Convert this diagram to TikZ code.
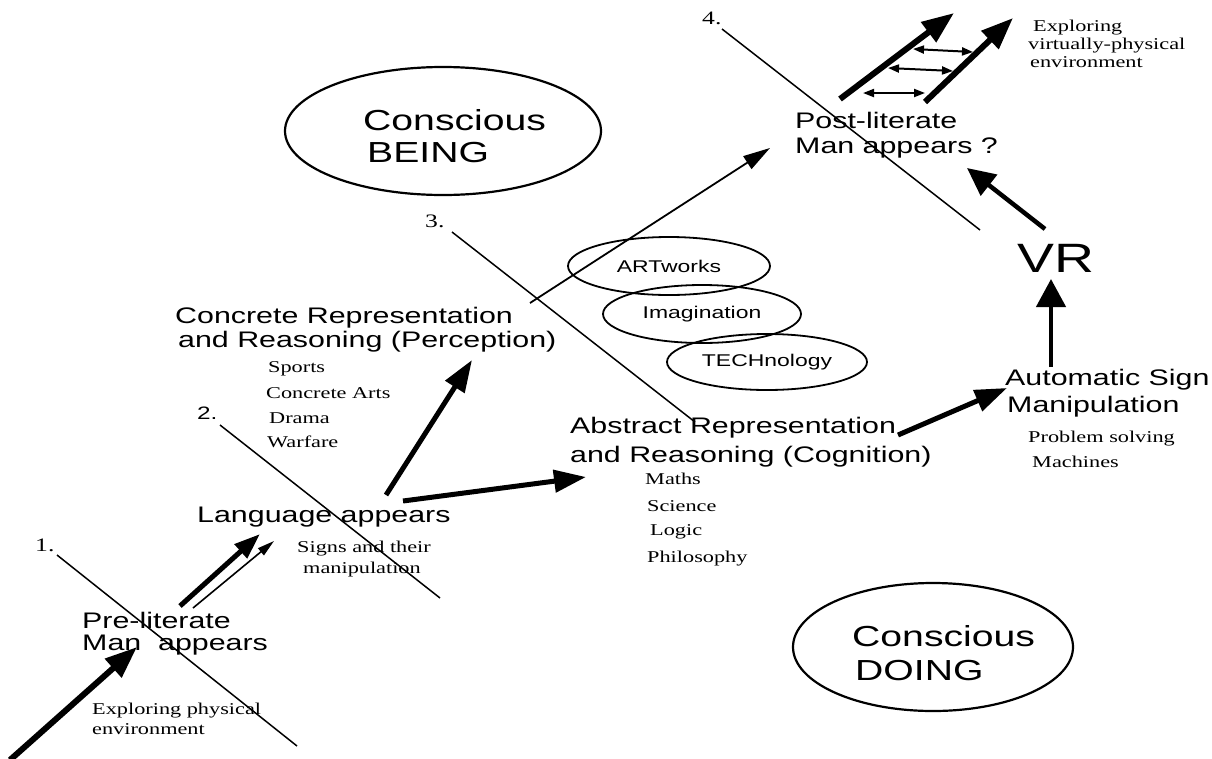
\documentclass[tikz,border=0pt]{standalone}
\usepackage{fontspec}
\setmainfont{Liberation Serif}[FakeStretch=1.35]
\setsansfont{Liberation Sans}[FakeStretch=1.35]
\usetikzlibrary{arrows.meta,shapes.geometric}
\begin{document}
\begin{tikzpicture}[x=1pt,y=-1pt,
  sanslbl/.style={anchor=base west, inner sep=0pt, font=\sffamily\fontsize{22.5}{27}\selectfont},
  biglbl/.style={anchor=base west, inner sep=0pt, font=\sffamily\fontsize{29}{34}\selectfont},
  serlbl/.style={anchor=base west, inner sep=0pt, font=\rmfamily\fontsize{16.5}{20}\selectfont},
  numlbl/.style={anchor=base west, inner sep=0pt, font=\rmfamily\fontsize{19}{22}\selectfont},
  ell/.style={draw, ellipse, line width=1.8pt, inner sep=0pt, font=\sffamily\fontsize{17}{20}\selectfont},
  bigell/.style={draw, ellipse, line width=2.2pt, inner sep=0pt},
  divline/.style={line width=1.5pt},
  fat/.style={line width=5pt, -{Triangle[length=32pt,width=22pt]}},
  fatter/.style={line width=6pt, -{Triangle[length=32pt,width=24pt]}},
  slim/.style={line width=1.6pt, -{Triangle[length=17pt,width=9pt]}},
  slimlong/.style={line width=1.8pt, -{Triangle[length=27pt,width=15pt]}},
  dbl/.style={line width=2pt, {Triangle[length=11pt,width=8pt]}-{Triangle[length=11pt,width=8pt]}}
]
\useasboundingbox[fill=white] (0,0) rectangle (1212,758);

% ---- divider lines and numbers ----
\coordinate (l1a) at (57,555);   \coordinate (l1b) at (297,746);
\coordinate (l2a) at (220,425);  \coordinate (l2b) at (440,598);
\coordinate (l3a) at (452,232);  \coordinate (l3b) at (695,422);
\coordinate (l4a) at (722,29);   \coordinate (l4b) at (980,230);
\draw[divline] (l1a) -- (l1b);
\draw[divline] (l2a) -- (l2b);
\draw[divline] (l3a) -- (l3b);
\draw[divline] (l4a) -- (l4b);
\node[numlbl] (n1) at (35,551) {1.};
\node[anchor=base west, inner sep=0pt, font=\sffamily\fontsize{18}{22}\selectfont] (n2) at (197,419) {2.};
\node[numlbl] (n3) at (425,227) {3.};
\node[numlbl] (n4) at (702,24) {4.};

% ---- big ellipses ----
\node[bigell, minimum width=316pt, minimum height=128pt] (being) at (443,131) {};
\node[biglbl] (being1) at (363,130) {Conscious};
\node[biglbl] (being2) at (367,162) {BEING};
\node[bigell, minimum width=280pt, minimum height=128pt] (doing) at (933,647) {};
\node[biglbl] (doing1) at (852,646) {Conscious};
\node[biglbl] (doing2) at (855,680) {DOING};

% ---- small ellipses ----
\node[ell, minimum width=202pt, minimum height=58pt] (art) at (669,266) {ARTworks};
\node[ell, minimum width=198pt, minimum height=58pt] (imag) at (702,314) {Imagination};
\node[ell, minimum width=200pt, minimum height=56pt] (tech) at (767,362) {TECHnology};

% ---- main labels ----
\node[sanslbl] (pre1) at (82,628) {Pre-literate};
\node[sanslbl] (pre2) at (82,650) {Man\ \ appears};
\node[serlbl] (exp1) at (92,714) {Exploring physical};
\node[serlbl] (exp2) at (92,734) {environment};

\node[sanslbl] (lang) at (197,522) {Language appears};
\node[serlbl] (sig1) at (297,552) {Signs and their};
\node[serlbl] (sig2) at (303,573) {manipulation};

\node[sanslbl] (con1) at (175,323) {Concrete Representation};
\node[sanslbl] (con2) at (178,347) {and Reasoning (Perception)};
\node[serlbl] (sp) at (268,372) {Sports};
\node[serlbl] (ca) at (266,398) {Concrete Arts};
\node[serlbl] (dr) at (269,423) {Drama};
\node[serlbl] (wf) at (267,447) {Warfare};

\node[sanslbl] (abs1) at (570,433) {Abstract Representation};
\node[sanslbl] (abs2) at (570,462) {and Reasoning (Cognition)};
\node[serlbl] (ma) at (645,484) {Maths};
\node[serlbl] (sc) at (647,511) {Science};
\node[serlbl] (lo) at (650,535) {Logic};
\node[serlbl] (ph) at (647,562) {Philosophy};

\node[sanslbl] (aut1) at (1005,385) {Automatic Sign};
\node[sanslbl] (aut2) at (1007,412) {Manipulation};
\node[serlbl] (ps) at (1028,442) {Problem solving};
\node[serlbl] (mc) at (1032,467) {Machines};

\node[anchor=base west, inner sep=0pt, font=\sffamily\fontsize{41}{46}\selectfont] (vr) at (1017,272) {VR};

\node[sanslbl] (post1) at (795,128) {Post-literate};
\node[sanslbl] (post2) at (795,153) {Man appears ?};
\node[serlbl] (ev1) at (1033,31) {Exploring};
\node[serlbl] (ev2) at (1028,49) {virtually-physical};
\node[serlbl] (ev3) at (1030,67) {environment};

% ---- arrows ----
\coordinate (a0s) at (10,760);   \coordinate (a0e) at (137,647);
\draw[fatter] (a0s) -- (a0e);
\coordinate (a1s) at (180,606);  \coordinate (a1e) at (260,534);
\draw[line width=5pt, -{Triangle[length=26pt,width=18pt]}] (a1s) -- (a1e);
\coordinate (a2s) at (193,608);  \coordinate (a2e) at (274,541);
\draw[slim] (a2s) -- (a2e);
\coordinate (a3s) at (386,495);  \coordinate (a3e) at (472,360);
\draw[fat] (a3s) -- (a3e);
\coordinate (a4s) at (403,501);  \coordinate (a4e) at (586,477);
\draw[fat] (a4s) -- (a4e);
\coordinate (a5s) at (530,303);  \coordinate (a5e) at (770,148);
\draw[slimlong] (a5s) -- (a5e);
\coordinate (a6s) at (898,435);  \coordinate (a6e) at (1007,388);
\draw[fat] (a6s) -- (a6e);
\coordinate (a7s) at (1051,367); \coordinate (a7e) at (1051,279);
\draw[line width=4.5pt, -{Triangle[length=28pt,width=29pt]}] (a7s) -- (a7e);
\coordinate (a8s) at (1045,229); \coordinate (a8e) at (967,168);
\draw[line width=4.5pt, -{Triangle[length=28pt,width=26pt]}] (a8s) -- (a8e);
\coordinate (a9s) at (840,99);   \coordinate (a9e) at (954,13);
\draw[fatter] (a9s) -- (a9e);
\coordinate (a10s) at (925,102); \coordinate (a10e) at (1013,18);
\draw[fatter] (a10s) -- (a10e);
\coordinate (d1s) at (913,49);   \coordinate (d1e) at (973,52);
\draw[dbl] (d1s) -- (d1e);
\coordinate (d2s) at (888,68);   \coordinate (d2e) at (953,71);
\draw[dbl] (d2s) -- (d2e);
\coordinate (d3s) at (863,93);   \coordinate (d3e) at (925,93);
\draw[dbl] (d3s) -- (d3e);
\end{tikzpicture}
\end{document}
